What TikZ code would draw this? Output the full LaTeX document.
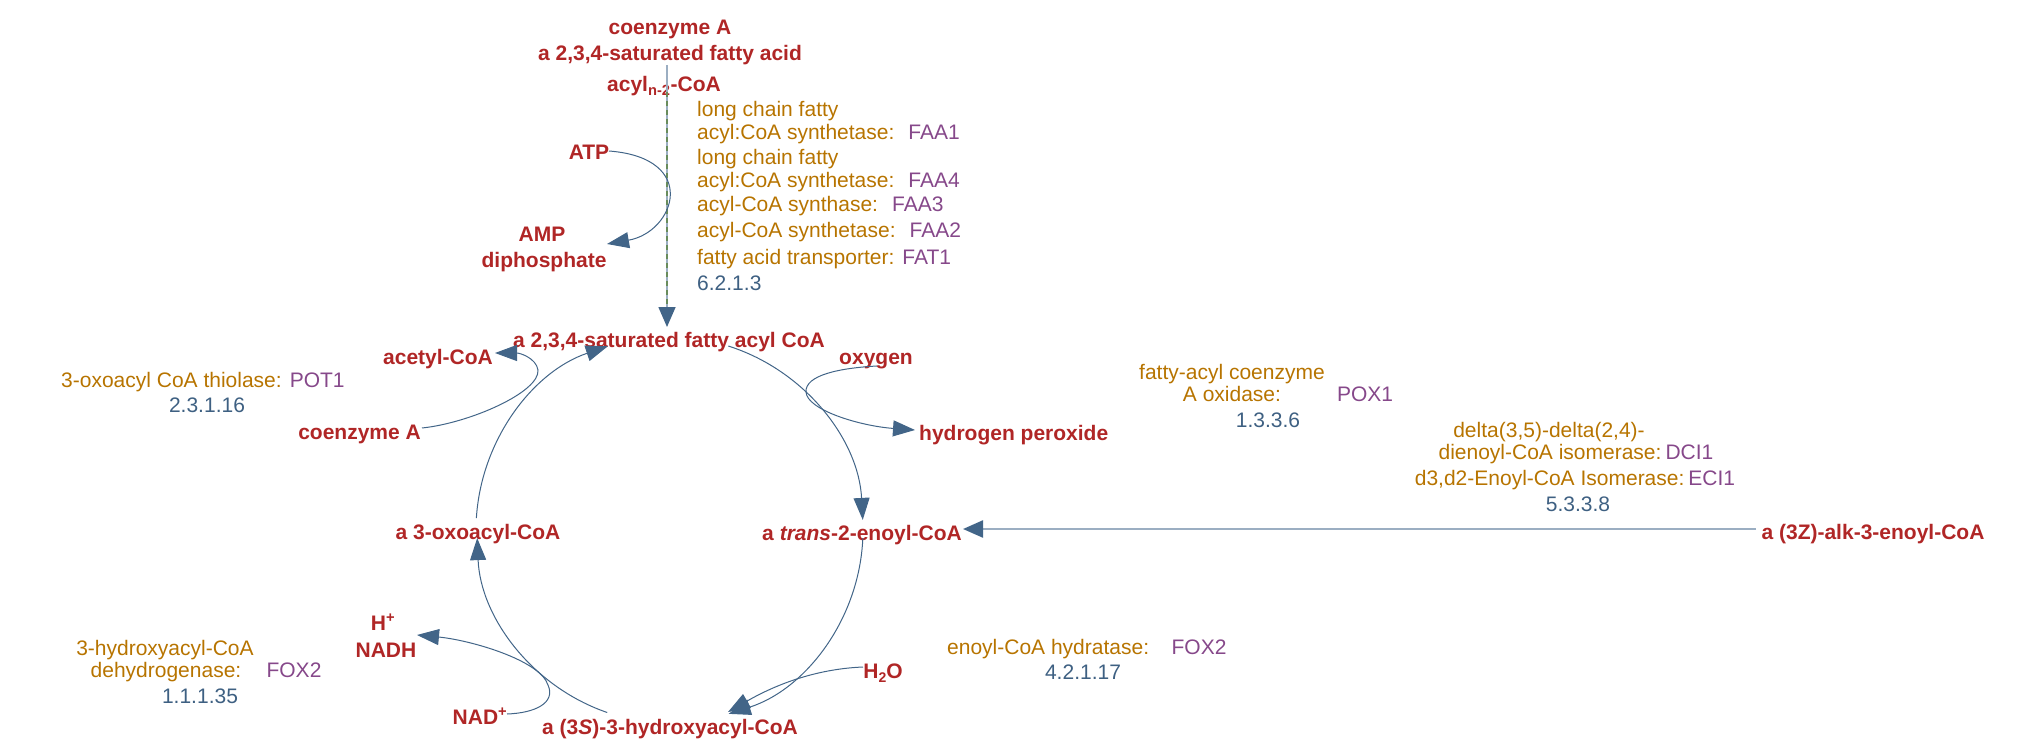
\documentclass[tikz,border=0pt]{standalone}
\usepackage{fontspec}
\setmainfont{Liberation Sans}
\usetikzlibrary{arrows.meta,calc}
\definecolor{metred}{RGB}{176,38,38}
\definecolor{enzcol}{RGB}{183,116,0}
\definecolor{genecol}{RGB}{134,72,138}
\definecolor{eccol}{RGB}{62,96,130}
\definecolor{arrowcol}{RGB}{66,101,136}
\definecolor{lightline}{RGB}{155,174,194}
\definecolor{dashgreen}{RGB}{104,140,92}
\begin{document}
\begin{tikzpicture}[x=1pt,y=-1pt,
  met/.style={text=metred,font=\fontsize{21}{23}\selectfont\bfseries,inner sep=0pt,anchor=base},
  enz/.style={text=enzcol,font=\fontsize{21}{23}\selectfont,inner sep=0pt,anchor=base},
  gene/.style={text=genecol,font=\fontsize{21}{23}\selectfont,inner sep=0pt,anchor=base},
  ec/.style={text=eccol,font=\fontsize{21}{23}\selectfont,inner sep=0pt,anchor=base},
  rxn/.style={draw=arrowcol,line width=1pt,-{Triangle[length=22pt,width=16pt]}},
  tip/.style={-{Triangle[length=20pt,width=17pt,color=arrowcol]}}]
\useasboundingbox (0,0) rectangle (2040,746);

% ---------- metabolites ----------
\node[met] (coaTop) at (670,35) {coenzyme A};
\node[met] (fattyAcid) at (670,61) {a 2,3,4-saturated fatty acid};
\node[met] (acylN) at (664,92) {acyl\textsubscript{n-2}-CoA};
\node[met] (atp) at (589,160) {ATP};
\node[met] (amp) at (542,241) {AMP};
\node[met] (diphos) at (544,267) {diphosphate};
\node[met] (satCoA) at (669,347) {a 2,3,4-saturated fatty acyl CoA};
\node[met] (acetyl) at (438,364) {acetyl-CoA};
\node[met,anchor=base east] (coaL) at (421,439) {coenzyme A};
\node[met] (oxygen) at (876,364) {oxygen};
\node[met,anchor=base west] (hperox) at (919,440) {hydrogen peroxide};
\node[met] (trans) at (862,540) {a \textit{trans}-2-enoyl-CoA};
\node[met] (oxo) at (478,539) {a 3-oxoacyl-CoA};
\node[met] (hydroxy) at (670,734) {a (3\textit{S})-3-hydroxyacyl-CoA};
\node[met] (nadp) at (480,724) {NAD\textsuperscript{+}};
\node[met] (hplus) at (383,630) {H\textsuperscript{+}};
\node[met] (nadh) at (386,657) {NADH};
\node[met] (water) at (883,678) {H\raisebox{-4pt}{\fontsize{14}{14}\selectfont 2}O};
\node[met] (alk) at (1873,539) {a (3Z)-alk-3-enoyl-CoA};

% ---------- enzymes ----------
\node[enz,anchor=base west] (e1a) at (697,117) {long chain fatty};
\node[enz,anchor=base west] (e1b) at (697,140) {acyl:CoA synthetase:\hspace{14pt}\textcolor{genecol}{FAA1}};
\node[enz,anchor=base west] (e2a) at (697,165) {long chain fatty};
\node[enz,anchor=base west] (e2b) at (697,188) {acyl:CoA synthetase:\hspace{14pt}\textcolor{genecol}{FAA4}};
\node[enz,anchor=base west] (e3) at (697,212) {acyl-CoA synthase:\hspace{14pt}\textcolor{genecol}{FAA3}};
\node[enz,anchor=base west] (e4) at (697,238) {acyl-CoA synthetase:\hspace{14pt}\textcolor{genecol}{FAA2}};
\node[enz,anchor=base west] (e5) at (697,264) {fatty acid transporter:\hspace{8pt}\textcolor{genecol}{FAT1}};
\node[ec,anchor=base west] (ec1) at (697,290) {6.2.1.3};

\node[enz,anchor=base west] (pot) at (61,387) {3-oxoacyl CoA thiolase:\hspace{8pt}\textcolor{genecol}{POT1}};
\node[ec] (ec2) at (207,412) {2.3.1.16};

\node[enz] (dh1) at (165,655) {3-hydroxyacyl-CoA};
\node[enz] (dh2) at (166,677) {dehydrogenase:};
\node[gene] (dhg) at (294,677) {FOX2};
\node[ec] (ec3) at (200,703) {1.1.1.35};

\node[enz] (ox1) at (1232,379) {fatty-acyl coenzyme};
\node[enz] (ox2) at (1232,401) {A oxidase:};
\node[gene] (oxg) at (1365,401) {POX1};
\node[ec] (ec4) at (1268,427) {1.3.3.6};

\node[enz] (is1) at (1549,437) {delta(3,5)-delta(2,4)-};
\node[enz] (is2) at (1576,459) {dienoyl-CoA isomerase:\hspace{4pt}\textcolor{genecol}{DCI1}};
\node[enz] (is3) at (1575,485) {d3,d2-Enoyl-CoA Isomerase:\hspace{4pt}\textcolor{genecol}{ECI1}};
\node[ec] (ec5) at (1578,511) {5.3.3.8};

\node[enz,anchor=base west] (hy) at (947,654) {enoyl-CoA hydratase:};
\node[gene] (hyg) at (1199,654) {FOX2};
\node[ec] (ec6) at (1083,679) {4.2.1.17};

% ---------- connector coordinates ----------
\coordinate (cyc) at (670,530);
\coordinate (vS) at (667,65);
\coordinate (vD) at (667,92);
\coordinate (vDe) at (667,306);
\coordinate (vE) at (667,327);
\coordinate (atpS) at (609,151);
\coordinate (atpE) at (607,244);
\coordinate (acS) at (422,428);
\coordinate (acM) at (538,370);
\coordinate (acE) at (495,353);
\coordinate (oxS) at (877,366);
\coordinate (oxM) at (806,392);
\coordinate (oxE) at (915,430);
\coordinate (nadS) at (507,714);
\coordinate (nadM) at (548,685);
\coordinate (nadE) at (417,635);
\coordinate (wS) at (863,667);
\coordinate (wE) at (728,712);
\coordinate (hS) at (1756,529);
\coordinate (hE) at (963,529);

% ---------- top reaction ----------
\draw[draw=lightline,line width=1.6pt,tip] (vS) -- (vE);
\draw[draw=dashgreen,line width=1.6pt,dash pattern=on 5pt off 4pt] (vD) -- (vDe);
\draw[rxn] (atpS) .. controls (700,158) and (675,232) .. (atpE);

% ---------- cycle ----------
\draw[rxn] ($(cyc)+(-72.4:193)$) arc[start angle=-72.4,end angle=-3,radius=193];
\draw[rxn] ($(cyc)+(2.4:193)$) arc[start angle=2.4,end angle=72.3,radius=193];
\draw[rxn] ($(cyc)+(109:193)$) arc[start angle=109,end angle=177.6,radius=193];
\draw[rxn] ($(cyc)+(183.5:194)$) arc[start angle=183.5,end angle=251.3,radius=194];

% ---------- side reactions ----------
\draw[rxn] (acS) .. controls (470,423) and (540,392) .. (acM) .. controls (536,358) and (520,353) .. (acE);
\draw[rxn] (oxS) .. controls (840,368) and (805,375) .. (oxM) .. controls (807,410) and (860,426) .. (oxE);
\draw[rxn] (nadS) .. controls (535,713) and (556,703) .. (nadM) .. controls (540,660) and (470,640) .. (nadE);
\draw[rxn] (wS) .. controls (815,669) and (775,685) .. (wE);

% ---------- isomerase ----------
\draw[draw=lightline,line width=2.4pt,tip] (hS) -- (hE);
\end{tikzpicture}
\end{document}
